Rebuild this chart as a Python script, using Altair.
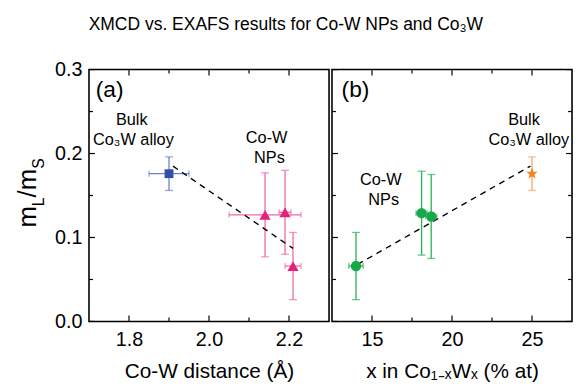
import math
import altair as alt
import pandas as pd

FONT = "Liberation Sans"
W, H = 243, 255

# ---------------- data ----------------
# panel (a): Co-W distance vs mL/mS
a_dist = [1.90, 2.14, 2.19, 2.21]
a_ratio = [0.176, 0.127, 0.130, 0.066]
a_dist_err = [0.05, 0.09, 0.015, 0.02]
a_ratio_err = [0.02, 0.05, 0.05, 0.04]
a_kind = ["bulk", "np", "np", "np"]
a_fit_x = [1.91, 2.21]
a_fit_y = [0.185, 0.087]

# panel (b): W content vs mL/mS
b_conc = [14.0, 18.1, 18.7, 25.0]
b_ratio = [0.066, 0.129, 0.125, 0.176]
b_conc_err = [0.45, 0.35, 0.35, 0.0]
b_ratio_err = [0.04, 0.05, 0.05, 0.02]
b_kind = ["np", "np", "np", "bulk"]
b_fit_x = [14.1, 24.9]
b_fit_y = [0.068, 0.185]

# axes
a_xdomain = [1.7, 2.3]
a_xmajor = [1.8, 2.0, 2.2]
a_xminor = [1.9, 2.1]
b_xdomain = [12.5, 27.5]
b_xmajor = [15, 20, 25]
b_xminor = [17.5, 22.5]
ydomain = [0.0, 0.3]
ymajor = [0.0, 0.1, 0.2, 0.3]
yminor = [0.05, 0.15, 0.25]

# annotations
a_notes = ["Bulk", "Co\u2083W alloy", "Co-W", "NPs"]
a_notes_x = [1.807, 1.811, 2.144, 2.151]
a_notes_y = [0.240, 0.216, 0.219, 0.195]
b_notes = ["Bulk", "Co\u2083W alloy", "Co-W", "NPs"]
b_notes_x = [24.5, 24.8, 15.55, 15.73]
b_notes_y = [0.240, 0.216, 0.168, 0.144]

# star symbol
pts = []
for k in range(10):
    r = 1.0 if k % 2 == 0 else 0.42
    ang = math.radians(-90 + 36 * k)
    pts.append(f"{r * math.cos(ang):.3f},{r * math.sin(ang):.3f}")
STAR = "M" + " L".join(pts) + " Z"


def make_df(x, y, xe, ye, kind, tag):
    df = pd.DataFrame({"x": x, "y": y, "xe": xe, "ye": ye,
                       "kind": [tag + k for k in kind]})
    df["xlo"] = df.x - df.xe
    df["xhi"] = df.x + df.xe
    df["ylo"] = df.y - df.ye
    df["yhi"] = df.y + df.ye
    df["ekind"] = df.kind + "_e"
    return df


def panel(df, tag, fit_x, fit_y, xdomain, xmajor, xminor, xtitle, fmt, colors,
          shapes, sizes, notes, notes_x, notes_y, label, label_x, show_y, right_ticks):
    xscale = alt.Scale(domain=xdomain, nice=False, zero=False)
    yscale = alt.Scale(domain=ydomain, nice=False, zero=False)
    xaxis = alt.Axis(values=xmajor, format=fmt, title=xtitle, ticks=False, domain=False,
                     grid=False, labelFontSize=20, labelFont=FONT, labelPadding=8,
                     labelColor="black", titleFontSize=21, titleFont=FONT,
                     titleFontWeight="normal", titleColor="black", titlePadding=12,
                     labelFlush=False)
    if show_y:
        yaxis = alt.Axis(values=ymajor, format=".1f", title=None, ticks=False, domain=False,
                         grid=False, labelFontSize=20, labelFont=FONT, labelPadding=7,
                         labelColor="black", labelFlush=False)
    else:
        yaxis = None

    def X(f):
        return alt.X(f, type="quantitative", scale=xscale, axis=xaxis)

    def Y(f):
        return alt.Y(f, type="quantitative", scale=yscale, axis=yaxis)

    kb, kn = tag + "bulk", tag + "np"
    col = alt.Scale(domain=[kb, kn, kb + "_e", kn + "_e"], range=colors)
    shp = alt.Scale(domain=[kb, kn], range=shapes)
    sz = alt.Scale(domain=[kb, kn], range=sizes)

    base = alt.Chart(df)
    ecol = alt.Color("ekind:N", scale=col, legend=None)
    verr = base.mark_rule(strokeWidth=1.3).encode(x=X("x"), y=Y("ylo"), y2="yhi", color=ecol)
    vcap1 = base.mark_tick(orient="horizontal", size=8, thickness=1.3).encode(x=X("x"), y=Y("ylo"), color=ecol)
    vcap2 = base.mark_tick(orient="horizontal", size=8, thickness=1.3).encode(x=X("x"), y=Y("yhi"), color=ecol)
    hb = base.transform_filter("datum.xe > 0")
    herr = hb.mark_rule(strokeWidth=1.3).encode(x=X("xlo"), x2="xhi", y=Y("y"), color=ecol)
    hcap1 = hb.mark_tick(orient="vertical", size=6, thickness=1.3).encode(x=X("xlo"), y=Y("y"), color=ecol)
    hcap2 = hb.mark_tick(orient="vertical", size=6, thickness=1.3).encode(x=X("xhi"), y=Y("y"), color=ecol)

    fit = alt.Chart(pd.DataFrame({"x": fit_x, "y": fit_y})).mark_line(
        color="black", strokeDash=[6, 5], strokeWidth=1.4).encode(x=X("x"), y=Y("y"))

    pts_ = base.mark_point(filled=True, opacity=1).encode(
        x=X("x"), y=Y("y"),
        color=alt.Color("kind:N", scale=col, legend=None),
        shape=alt.Shape("kind:N", scale=shp, legend=None),
        size=alt.Size("kind:N", scale=sz, legend=None))

    ndf = pd.DataFrame({"t": notes, "x": notes_x, "y": notes_y})
    txt = alt.Chart(ndf).mark_text(font=FONT, fontSize=16.5, color="black", align="center",
                                   baseline="middle").encode(x=X("x"), y=Y("y"), text="t")
    lab = alt.Chart(pd.DataFrame({"t": [label], "x": [label_x], "y": [0.275]})).mark_text(
        font=FONT, fontSize=23, color="black", align="left", baseline="middle").encode(
        x=X("x"), y=Y("y"), text="t")

    layers = [verr, vcap1, vcap2, herr, hcap1, hcap2, fit, pts_, txt, lab]

    # inward tick marks
    def tick_layers(vals, L):
        d = alt.Chart(pd.DataFrame({"t": vals}))
        return [
            d.mark_rule(color="black", strokeWidth=1.2).encode(x=X("t"), y=alt.value(H), y2=alt.value(H - L)),
            d.mark_rule(color="black", strokeWidth=1.2).encode(x=X("t"), y=alt.value(0), y2=alt.value(L)),
        ]

    def ytick_layers(vals, L):
        d = alt.Chart(pd.DataFrame({"t": vals}))
        out = [d.mark_rule(color="black", strokeWidth=1.2).encode(y=Y("t"), x=alt.value(0), x2=alt.value(L))]
        if right_ticks:
            out.append(d.mark_rule(color="black", strokeWidth=1.2).encode(y=Y("t"), x=alt.value(W), x2=alt.value(W - L)))
        return out

    layers += tick_layers(xmajor, 6) + tick_layers(xminor, 4)
    layers += ytick_layers(ymajor, 6) + ytick_layers(yminor, 4)

    if show_y:
        one = alt.Data(values=[{"a": 1}])
        pieces = [("m", 26, -54, 160), ("L", 16, -46, 138.3),
                  ("/m", 26, -54, 129.4), ("S", 16, -46, 100.5)]
        for t, fs, px, py in pieces:
            layers.append(alt.Chart(one).mark_text(
                text=t, font=FONT, fontSize=fs, angle=270, align="left", baseline="alphabetic",
                color="black").encode(x=alt.value(px), y=alt.value(py)))

    return alt.layer(*layers).properties(width=W, height=H)


dfa = make_df(a_dist, a_ratio, a_dist_err, a_ratio_err, a_kind, "a_")
dfb = make_df(b_conc, b_ratio, b_conc_err, b_ratio_err, b_kind, "b_")

pa = panel(dfa, "a_", a_fit_x, a_fit_y, a_xdomain, a_xmajor, a_xminor, "Co-W distance (\u00c5)", ".1f",
           ["#3050a8", "#e6217b", "#6d82c6", "#ef6aa6"], ["square", "triangle-up"], [80, 130],
           a_notes, a_notes_x, a_notes_y, "(a)", 1.717, True, False)
pb = panel(dfb, "b_", b_fit_x, b_fit_y, b_xdomain, b_xmajor, b_xminor,
           "x in Co\u2081\u208b\u2093W\u2093 (% at)", "d",
           ["#f5821f", "#17a84a", "#f7a564", "#26b450"], [STAR, "circle"], [150, 110],
           b_notes, b_notes_x, b_notes_y, "(b)", 13.1, False, True)

chart = alt.hconcat(pa, pb, spacing=0).resolve_scale(
    color="independent", shape="independent", size="independent"
).properties(
    title=alt.TitleParams("XMCD vs. EXAFS results for Co-W NPs and Co\u2083W", font=FONT,
                          fontSize=17.7, fontWeight="normal", color="black", anchor="middle",
                          offset=26, dx=-8),
    padding={"left": 6, "right": 0, "top": 5, "bottom": 0},
    background="white",
).configure_view(stroke="black", strokeWidth=1.6)

chart.save("out.html", embed_options={"renderer": "svg", "actions": False})
